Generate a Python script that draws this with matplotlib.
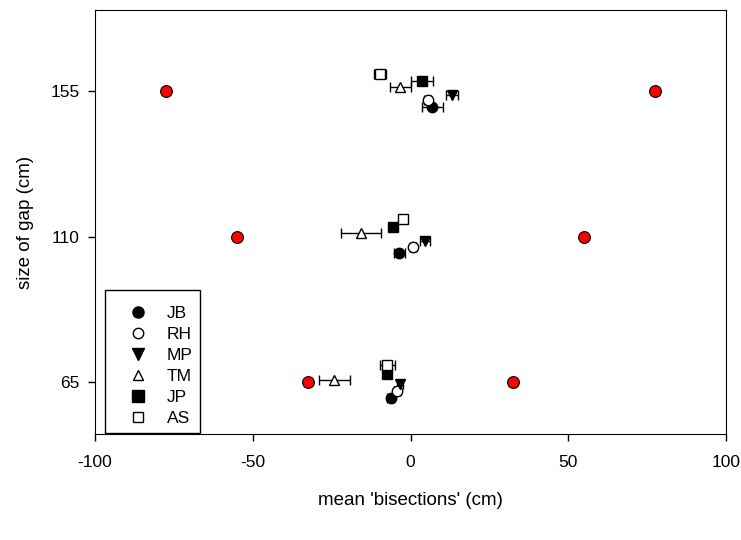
import matplotlib
matplotlib.use('Agg')
import matplotlib.pyplot as plt
from matplotlib.lines import Line2D

plt.rcParams['font.family'] = ['Liberation Sans', 'DejaVu Sans']
plt.rcParams['axes.unicode_minus'] = False

# observers and their marker styles
names = ['JB', 'RH', 'MP', 'TM', 'JP', 'AS']
mk = ['o', 'o', 'v', '^', 's', 's']
fc = ['black', 'white', 'black', 'white', 'black', 'white']

# mean bisection (x), plotted height (y) and x error, per gap 155 / 110 / 65
x155 = [6.9, 5.4, 13.1, -3.2, 3.6, -9.7]
y155 = [150.0, 152.3, 153.8, 156.2, 158.0, 160.1]
e155 = [3.3, 1.0, 1.8, 3.2, 3.4, 1.8]

x110 = [-3.5, 0.9, 4.6, -15.7, -5.4, -2.3]
y110 = [105.0, 106.9, 108.6, 111.0, 113.0, 115.3]
e110 = [1.8, 1.0, 1.7, 6.2, 1.0, 1.2]

x65 = [-6.3, -4.2, -3.3, -24.2, -7.4, -7.4]
y65 = [60.1, 62.2, 64.4, 65.6, 67.6, 70.4]
e65 = [1.0, 1.0, 1.0, 4.9, 1.0, 2.4]

# true bisection positions (half the gap either side)
gaps = [65, 110, 155]
ends = [32.5, 55, 77.5]

fig, ax = plt.subplots(figsize=(7.41, 5.40), dpi=100)
fig.subplots_adjust(left=95 / 741, right=726 / 741, top=1 - 10 / 540, bottom=1 - 434 / 540)

for xs, ys, es in [(x155, y155, e155), (x110, y110, e110), (x65, y65, e65)]:
    for i in range(len(names)):
        ax.errorbar(xs[i], ys[i], xerr=es[i], fmt=mk[i], color='black',
                    mfc=fc[i], mec='black', ms=7.5, mew=1, elinewidth=1,
                    capsize=3.5, capthick=1, zorder=3)

for g, e in zip(gaps, ends):
    ax.plot([-e, e], [g, g], 'o', color='red', mec='black', mew=0.8, ms=8.5, ls='none', zorder=4)

ax.set_xlim(-100, 100)
ax.set_ylim(49, 180)
ax.set_xticks([-100, -50, 0, 50, 100])
ax.set_yticks(gaps)
ax.tick_params(direction='out', length=5, width=1, pad=6, labelsize=12.5, top=False, right=False)
ax.tick_params(axis='x', pad=10)
ax.set_xlabel("mean 'bisections' (cm)", fontsize=13.5, labelpad=16)
ax.set_ylabel('size of gap (cm)', fontsize=13.5, labelpad=12)

# legend: markers only
hs = [Line2D([], [], marker=mk[i], ls='none', color='black', mfc=fc[i],
             mec='black', ms=8 if fc[i] == 'black' else 7.5) for i in range(len(names))]
leg = ax.legend(hs, names, loc='lower left', bbox_to_anchor=(0.016, 0.003),
                borderaxespad=0, fancybox=False, edgecolor='black', framealpha=1,
                fontsize=12.5, handlelength=3.0, handletextpad=0.15, labelspacing=0.33,
                borderpad=0.4, title=' ', title_fontsize=2)
leg.get_frame().set_linewidth(1)

plt.savefig('out.png', dpi=100)
